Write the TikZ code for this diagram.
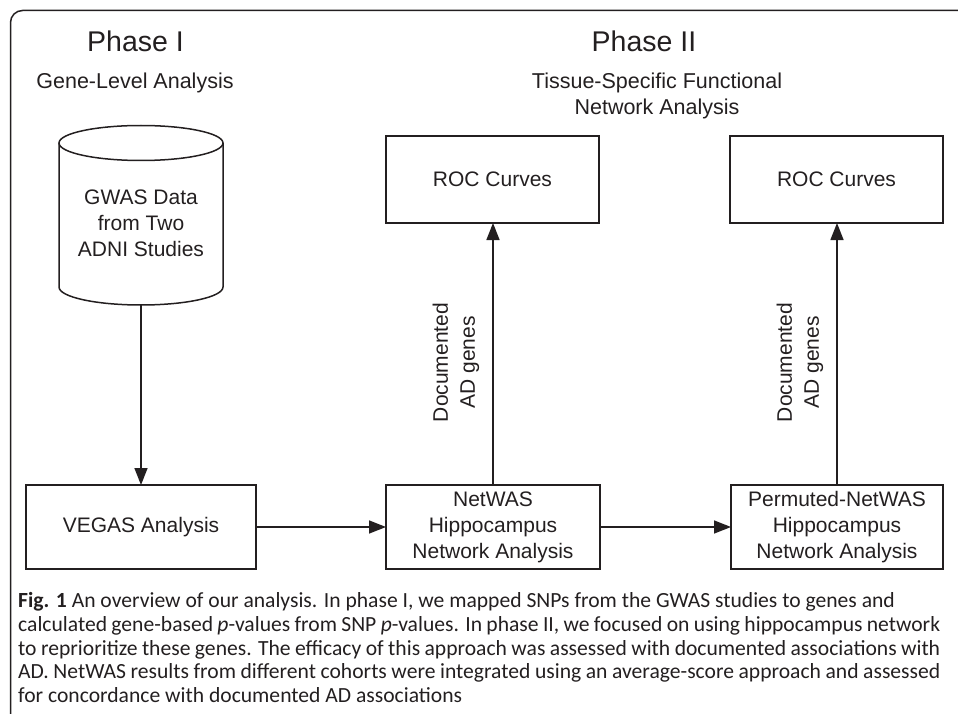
\documentclass[tikz,border=0pt]{standalone}
\usepackage{fontspec}
\setmainfont{Liberation Sans}
\newfontfamily\capfont{Carlito}
\usetikzlibrary{arrows.meta}
\definecolor{ink}{HTML}{231F20}
\begin{document}
\begin{tikzpicture}[x=1pt,y=-1pt,
  box/.style={draw=ink, line width=1.5pt, inner sep=0pt, outer sep=0pt, align=center,
    font=\fontsize{21}{26}\selectfont, text=ink},
  arr/.style={draw=ink, line width=1.5pt, -{Triangle[length=17pt,width=13pt]}},
  ttl/.style={font=\fontsize{28.5}{34}\selectfont, text=ink, inner sep=0pt, anchor=base},
  sub/.style={font=\fontsize{21.5}{26}\selectfont, text=ink, inner sep=0pt, anchor=base},
  lab/.style={font=\fontsize{21}{27}\selectfont, rotate=90, align=center, text=ink, inner sep=0pt},
  capline/.style={font=\capfont\fontsize{21.6}{23.75}\selectfont, anchor=base west, inner sep=0pt, text=ink},
  frame/.style={draw=ink, line width=1.5pt, rounded corners=12pt}]
\useasboundingbox (0,0) rectangle (958,714);
% frame
\draw[frame] (958,10.5) -- (10.5,10.5) -- (10.5,714);
% headings
\node[ttl] (ph1) at (135.5,52) {Phase I};
\node[ttl] (ph2) at (644,52) {Phase II};
\node[sub] (sub1) at (135,89) {Gene-Level Analysis};
\node[sub] (sub2a) at (657,89) {Tissue-Specific Functional};
\node[sub] (sub2b) at (657,115) {Network Analysis};
% cylinder
\draw[draw=ink, line width=1.5pt] (141,143) ellipse[x radius=82, y radius=17.5];
\draw[draw=ink, line width=1.5pt] (59,143) -- (59,287)
  arc[start angle=180, end angle=0, x radius=82, y radius=18] -- (223,143);
\node[box, draw=none] (gwas) at (141,223) {GWAS Data\\from Two\\ADNI Studies};
\coordinate (cylbot) at (141,305);
% boxes
\node[box, minimum width=230pt, minimum height=84pt] (vegas) at (141,527) {VEGAS Analysis};
\node[box, minimum width=214pt, minimum height=84pt] (net) at (493,527) {NetWAS\\Hippocampus\\Network Analysis};
\node[box, minimum width=212pt, minimum height=84pt] (perm) at (837,527) {Permuted-NetWAS\\Hippocampus\\Network Analysis};
\node[box, minimum width=213pt, minimum height=87pt] (roc1) at (492.5,179.5) {ROC Curves};
\node[box, minimum width=213pt, minimum height=87pt] (roc2) at (836.5,179.5) {ROC Curves};
% arrows
\draw[arr] (cylbot) -- (vegas.north);
\draw[arr] (vegas.east) -- (net.west);
\draw[arr] (net.east) -- (perm.west);
\draw[arr] (net.north) -- (net.north |- roc1.south);
\draw[arr] (perm.north) -- (perm.north |- roc2.south);
% labels
\node[lab] (lab1) at (456,362.5) {Documented\\AD genes};
\node[lab] (lab2) at (800,362.5) {Documented\\AD genes};
% caption
\node[capline] (c1) at (18,607.5) {\textbf{Fig. 1} An overview of our analysis. In phase I, we mapped SNPs from the GWAS studies to genes and};
\node[capline] (c2) at (18,631.25) {\makebox[922pt][s]{calculated gene-based \textit{p}-values from SNP \textit{p}-values. In phase II, we focused on using hippocampus network}};
\node[capline] (c3) at (18,655) {\makebox[922pt][s]{to reprioritize these genes. The efficacy of this approach was assessed with documented associations with}};
\node[capline] (c4) at (18,678.75) {\makebox[922pt][s]{AD. NetWAS results from different cohorts were integrated using an average-score approach and assessed}};
\node[capline] (c5) at (18,702.5) {for concordance with documented AD associations};
\end{tikzpicture}
\end{document}
